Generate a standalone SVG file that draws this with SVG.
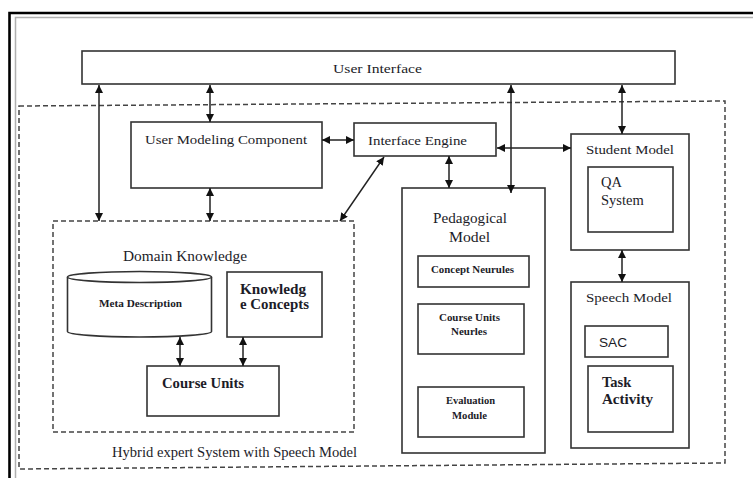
<svg xmlns="http://www.w3.org/2000/svg" width="753" height="478" viewBox="0 0 753 478">
  <style>
    .box { fill: #ffffff; stroke: #333333; stroke-width: 1.6; }
    .dash { fill: none; stroke: #444444; stroke-width: 1.5; stroke-dasharray: 5 3; }
    .lbl { font-family: "Liberation Serif", "Times New Roman", serif; fill: #1c1c28; font-size: 13px; }
    .big { font-size: 14.5px; }
    .bold { font-weight: bold; }
    .small { font-size: 9.5px; font-weight: bold; }
    .arr { fill: none; stroke: #222222; stroke-width: 1.5; marker-start: url(#head); marker-end: url(#head); }
  </style>
  <defs>
    <marker id="head" viewBox="0 0 8 8" refX="8" refY="4" markerWidth="8" markerHeight="8" markerUnits="userSpaceOnUse" orient="auto-start-reverse">
      <path d="M0,0 L8,4 L0,8 z" fill="#111111"/>
    </marker>
  </defs>

  <rect width="753" height="478" fill="#ffffff"/>

  <!-- page frame -->
  <g id="frame">
    <path d="M9.5,478 V13 H753" fill="none" stroke="#000000" stroke-width="2.6"/>
    <path d="M15.5,478 V17.5 H753" fill="none" stroke="#b0b0b0" stroke-width="1.5"/>
  </g>

  <!-- system boundary -->
  <g id="hybrid-system">
    <path class="dash" d="M19,106 L725,101 L725,463 L19,469 Z"/>
    <text class="lbl big" x="112" y="457" textLength="245" lengthAdjust="spacingAndGlyphs">Hybrid expert System with Speech Model</text>
  </g>

  <g id="user-interface">
    <rect class="box" x="82" y="51" width="593" height="33"/>
    <text class="lbl" x="333" y="73" textLength="89" lengthAdjust="spacingAndGlyphs">User Interface</text>
  </g>

  <g id="user-modeling">
    <rect class="box" x="131" y="122" width="191" height="66"/>
    <text class="lbl" x="145" y="144" textLength="162" lengthAdjust="spacingAndGlyphs">User Modeling Component</text>
  </g>

  <g id="interface-engine">
    <rect class="box" x="354" y="123" width="142" height="33"/>
    <text class="lbl" x="368" y="145" textLength="99" lengthAdjust="spacingAndGlyphs">Interface Engine</text>
  </g>

  <g id="student-model">
    <rect class="box" x="571" y="134" width="118" height="116"/>
    <text class="lbl" x="586" y="154" textLength="88" lengthAdjust="spacingAndGlyphs">Student Model</text>
    <rect class="box" x="588" y="167" width="85" height="65"/>
    <text class="lbl big" x="601" y="187">QA</text>
    <text class="lbl big" x="601" y="205">System</text>
  </g>

  <g id="pedagogical-model">
    <rect class="box" x="402" y="188" width="143" height="265"/>
    <text class="lbl big" x="433" y="223" textLength="74" lengthAdjust="spacingAndGlyphs">Pedagogical</text>
    <text class="lbl big" x="449" y="242" textLength="41" lengthAdjust="spacingAndGlyphs">Model</text>
    <rect class="box" x="418" y="256" width="111" height="31"/>
    <text class="lbl small" x="431" y="273" textLength="83" lengthAdjust="spacingAndGlyphs">Concept Neurules</text>
    <rect class="box" x="418" y="304" width="106" height="50"/>
    <text class="lbl small" x="439" y="321" textLength="61" lengthAdjust="spacingAndGlyphs">Course Units</text>
    <text class="lbl small" x="451" y="335" textLength="36" lengthAdjust="spacingAndGlyphs">Neurles</text>
    <rect class="box" x="418" y="387" width="106" height="50"/>
    <text class="lbl small" x="446" y="404" textLength="49" lengthAdjust="spacingAndGlyphs">Evaluation</text>
    <text class="lbl small" x="452" y="419" textLength="35" lengthAdjust="spacingAndGlyphs">Module</text>
  </g>

  <g id="speech-model">
    <rect class="box" x="571" y="282" width="118" height="166"/>
    <text class="lbl" x="586" y="302" textLength="86" lengthAdjust="spacingAndGlyphs">Speech Model</text>
    <rect class="box" x="585" y="326" width="83" height="31"/>
    <text class="lbl" x="599" y="347" style="font-family: 'Liberation Sans', Arial, sans-serif; font-size: 13.5px;" textLength="28" lengthAdjust="spacingAndGlyphs">SAC</text>
    <rect class="box" x="588" y="366" width="85" height="66"/>
    <text class="lbl big bold" x="602" y="387">Task</text>
    <text class="lbl big bold" x="602" y="404" textLength="51" lengthAdjust="spacingAndGlyphs">Activity</text>
  </g>

  <g id="domain-knowledge">
    <rect class="dash" x="53" y="221" width="301" height="211"/>
    <text class="lbl big" x="123" y="261" textLength="124" lengthAdjust="spacingAndGlyphs">Domain Knowledge</text>
  </g>

  <g id="meta-description">
    <path class="box" d="M67.5,277 A72,5.5 0 0 1 211.5,277 V331.5 A72,5.5 0 0 1 67.5,331.5 Z"/>
    <path d="M67.5,277 A72,5.5 0 0 0 211.5,277" fill="none" stroke="#333333" stroke-width="1.6"/>
    <text class="lbl small" x="99" y="307" textLength="83" lengthAdjust="spacingAndGlyphs">Meta Description</text>
  </g>

  <g id="knowledge-concepts">
    <rect class="box" x="227" y="272" width="95" height="65"/>
    <text class="lbl big bold" x="240" y="294" textLength="66" lengthAdjust="spacingAndGlyphs">Knowledg</text>
    <text class="lbl big bold" x="240" y="309" textLength="69" lengthAdjust="spacingAndGlyphs">e Concepts</text>
  </g>

  <g id="course-units">
    <rect class="box" x="147" y="366" width="132" height="50"/>
    <text class="lbl big bold" x="162" y="388" textLength="82" lengthAdjust="spacingAndGlyphs">Course Units</text>
  </g>

  <!-- bidirectional links -->
  <g id="connectors">
    <line class="arr" x1="99" y1="85" x2="99" y2="221"/>
    <line class="arr" x1="210" y1="85" x2="210" y2="122"/>
    <line class="arr" x1="210" y1="188" x2="210" y2="221"/>
    <line class="arr" x1="322" y1="140" x2="354" y2="140"/>
    <line class="arr" x1="384" y1="157" x2="340" y2="221"/>
    <line class="arr" x1="449" y1="156" x2="449" y2="188"/>
    <line class="arr" x1="511" y1="85" x2="511" y2="193"/>
    <line class="arr" x1="497" y1="148" x2="571" y2="148"/>
    <line class="arr" x1="622" y1="85" x2="622" y2="134"/>
    <line class="arr" x1="622" y1="250" x2="622" y2="282"/>
    <line class="arr" x1="180" y1="337" x2="180" y2="366"/>
    <line class="arr" x1="243" y1="337" x2="243" y2="366"/>
  </g>
</svg>
